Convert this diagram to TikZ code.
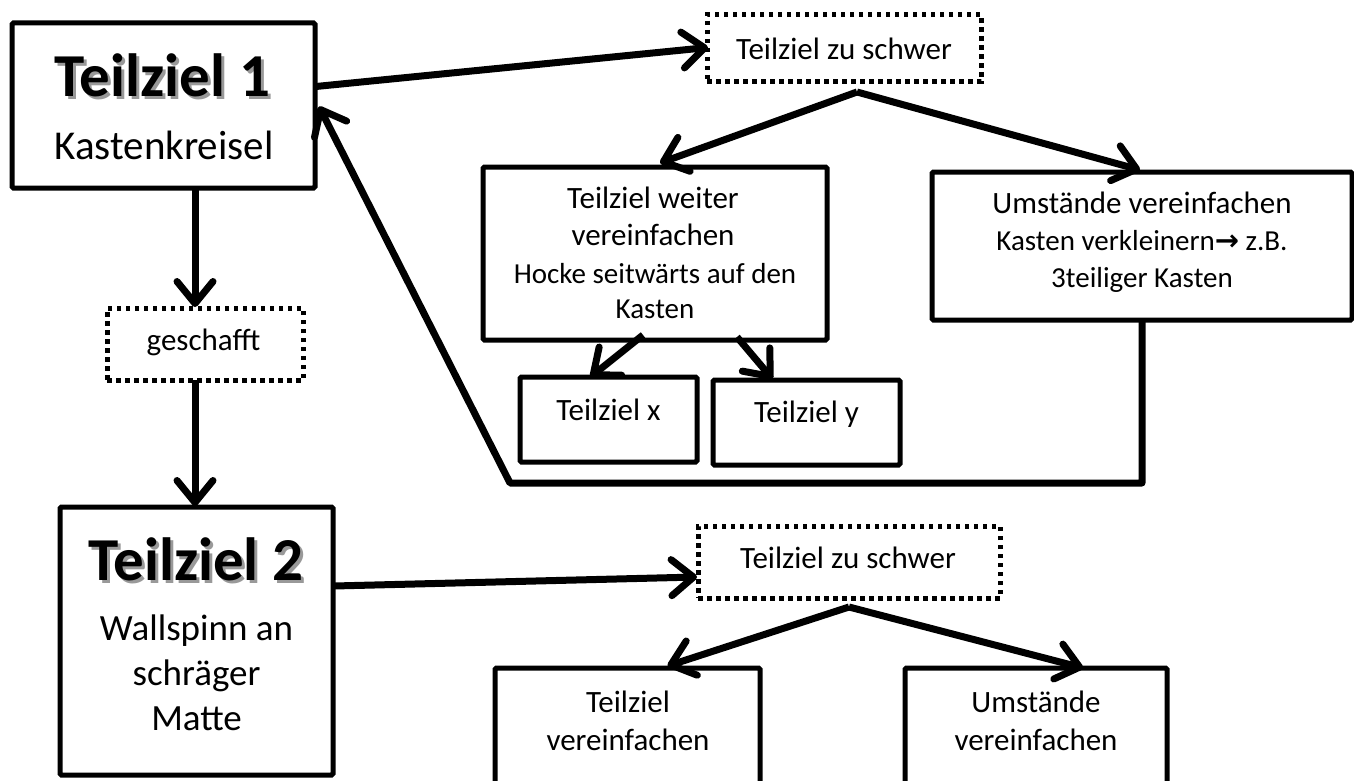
\documentclass[tikz,border=0pt]{standalone}
\usepackage{fontspec}
\setmainfont{Carlito}
\newfontfamily\arrowfont{DejaVu Sans}
\usetikzlibrary{arrows.meta,calc}
\newcommand{\shadowtext}[1]{\makebox[0pt][l]{\hspace{3pt}\raisebox{-3pt}{\color{black!40}#1}}#1}
\begin{document}
\begin{tikzpicture}[x=1pt,y=-1pt,
  box/.style={draw,line width=5pt,rounded corners=1.5pt,inner sep=0pt,outer sep=0pt,fill=white},
  dbox/.style={draw,line width=5pt,dash pattern=on 4.5pt off 4.5pt,inner sep=0pt,outer sep=0pt},
  conn/.style={line width=7pt,line join=round,-{Straight Barb[round,length=22pt,width=36pt]}},
  txt/.style={anchor=base,inner sep=0pt,font=\fontsize{31}{37}\selectfont},
  txts/.style={anchor=base,inner sep=0pt,font=\fontsize{29}{35}\selectfont},
  txtm/.style={anchor=base,inner sep=0pt,font=\fontsize{37}{44}\selectfont},
  txtl/.style={anchor=base,inner sep=0pt,font=\fontsize{41}{48}\selectfont},
  title/.style={anchor=base,inner sep=0pt,font=\fontsize{61}{70}\selectfont\bfseries}
]
\clip (0,0) rectangle (1354,781);
\fill[white] (0,0) rectangle (1354,781);

% boxes
\node[box,minimum width=303pt,minimum height=165pt] (T1) at (163.5,105.5) {};
\node[dbox,minimum width=274pt,minimum height=67pt] (ZS1) at (844,48.5) {};
\node[box,minimum width=344pt,minimum height=173pt] (TW) at (655,253.5) {};
\node[box,minimum width=420pt,minimum height=148pt] (UV) at (1142,246) {};
\node[box,minimum width=177pt,minimum height=85pt] (TX) at (608.5,419.5) {};
\node[box,minimum width=187pt,minimum height=85pt] (TY) at (806.5,422.5) {};
\node[dbox,minimum width=196pt,minimum height=72pt] (GS) at (205,344) {};
\node[box,minimum width=273pt,minimum height=268pt] (T2) at (196.5,641) {};
\node[dbox,minimum width=302pt,minimum height=72pt] (ZS2) at (849,562) {};
\node[box,minimum width=265pt,minimum height=132pt] (TV2) at (627.5,734) {};
\node[box,minimum width=262pt,minimum height=132pt] (UV2) at (1036,734) {};

% texts
\node[title] (t1t) at (162.5,97) {\shadowtext{Teilziel 1}};
\node[txtl] (t1b) at (164,160) {Kastenkreisel};
\node[txt] (zs1t) at (844,60) {Teilziel zu schwer};
\node[txt] (tw1) at (653,208) {Teilziel weiter};
\node[txt] (tw2) at (653,245) {vereinfachen};
\node[txts] (tw3) at (655,283) {Hocke seitwärts auf den};
\node[txts] (tw4) at (655,318) {Kasten};
\node[txt] (uv1) at (1142,213) {Umstände vereinfachen};
\node[txts] (uv2) at (1142,250) {Kasten verkleinern{\arrowfont\bfseries →} z.B.};
\node[txts] (uv3) at (1142,287) {3teiliger Kasten};
\node[txt] (txt) at (608.5,420) {Teilziel x};
\node[txt] (tyt) at (806.5,422) {Teilziel y};
\node[txt] (gst) at (203.5,350) {geschafft};
\node[title] (t2t) at (196,580) {\shadowtext{Teilziel 2}};
\node[txtm] (t2a) at (196.5,640) {Wallspinn an};
\node[txtm] (t2b) at (196.5,685) {schräger};
\node[txtm] (t2c) at (196.5,730) {Matte};
\node[txt] (zs2t) at (848,568) {Teilziel zu schwer};
\node[txt] (tv2a) at (628,712) {Teilziel};
\node[txt] (tv2b) at (628,750) {vereinfachen};
\node[txt] (uv2a) at (1036,712) {Umstände};
\node[txt] (uv2b) at (1036,750) {vereinfachen};

% connectors
\coordinate (ap1) at ($(ZS1.south)+(13,10)$);
\coordinate (ap2) at ($(ZS2.south)+(0,9)$);
\coordinate (fbc) at (510,483);

\draw[conn] ($(T1.east)+(1,-19)$) -- ($(ZS1.west)+(1,-1)$);
\draw[conn] (ap1) -- ($(TW.north)+(5,-4)$);
\draw[conn] (ap1) -- ($(UV.north)+(-2,-2)$);
\draw[conn] ($(TW.south)+(-12,-5)$) -- ($(TX.north)+(-18,0)$);
\draw[conn] ($(TW.south)+(82,-3)$) -- ($(TY.north)+(-34,-1)$);
\draw[conn] (UV.south) |- (fbc) -- ($(T1.east)+(4,1)$);
\draw[conn] ($(T1.south)+(31.5,0)$) -- ($(GS.north)+(-10,-1)$);
\draw[conn] ($(GS.south)+(-10,0)$) -- ($(T2.north)+(-1.5,-1)$);
\draw[conn] ($(T2.east)+(1,-55)$) -- ($(ZS2.west)+(-1,15)$);
\draw[conn] (ap2) -- ($(TV2.north)+(40,-2)$);
\draw[conn] (ap2) -- ($(UV2.north)+(47,0)$);
\end{tikzpicture}
\end{document}
